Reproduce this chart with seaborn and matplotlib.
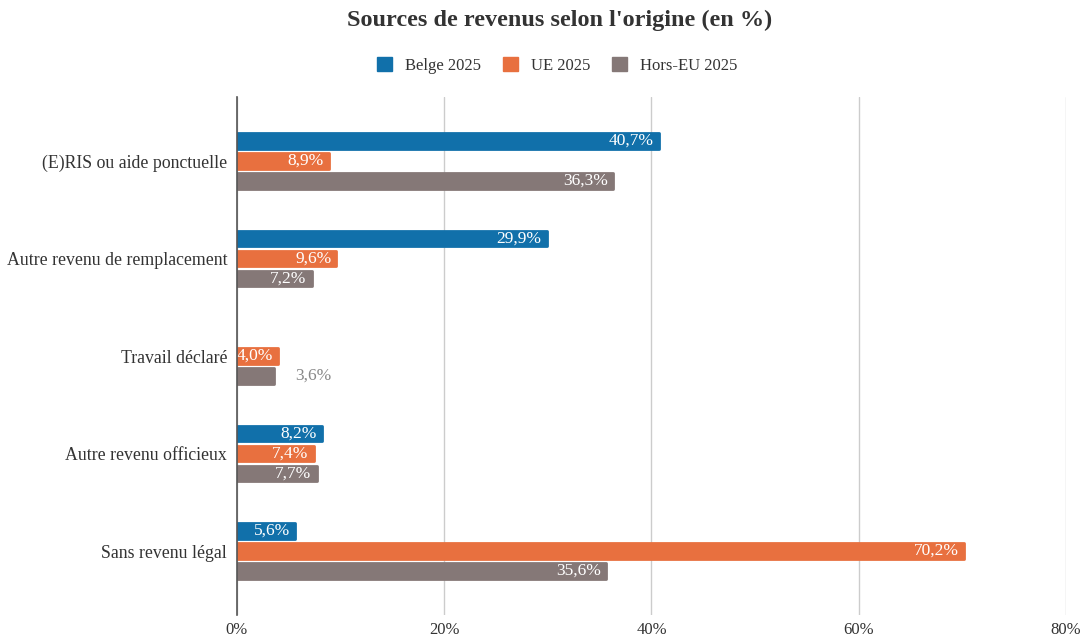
import numpy as np
import pandas as pd
import seaborn as sns
import matplotlib.pyplot as plt

categories = ['(E)RIS ou aide ponctuelle', 'Autre revenu de remplacement',
              'Travail déclaré', 'Autre revenu officieux', 'Sans revenu légal']
series_names = ['Belge 2025', 'UE 2025', 'Hors-EU 2025']
belge = [40.7, 29.9, np.nan, 8.2, 5.6]
ue = [8.9, 9.6, 4.0, 7.4, 70.2]
hors_eu = [36.3, 7.2, 3.6, 7.7, 35.6]
x_ticks = [0, 20, 40, 60, 80]

colors = ['#1170AA', '#E8703F', '#857877']
text_color = '#333333'

sns.set_theme(style='white')
plt.rcParams['font.family'] = ['Liberation Serif', 'DejaVu Serif']

rows = []
for name, vals in zip(series_names, [belge, ue, hors_eu]):
  for cat, v in zip(categories, vals):
    rows.append(dict(cat=cat, serie=name, value=v))
df = pd.DataFrame(rows)

fig = plt.figure(figsize=(10.84, 6.41), dpi=100)
ax = fig.add_axes([0.2186, 0.0406, 0.7648, 0.808])

sns.barplot(data=df, y='cat', x='value', hue='serie', order=categories,
            hue_order=series_names, palette=colors, orient='h', width=0.615,
            gap=0.22, saturation=1, ax=ax, legend=False)

# rounded bar ends: same-colour edge with round joins
for cont in ax.containers:
  for bar in cont:
    bar.set_edgecolor(bar.get_facecolor())
    bar.set_linewidth(2.0)
    bar.set_joinstyle('round')

ax.set_xlim(0, 80)
ax.set_ylim(4.656, -0.656)
ax.set_xticks(x_ticks)
ax.set_xticklabels(['{}%'.format(t) for t in x_ticks], fontsize=12, color=text_color)
ax.tick_params(axis='y', labelsize=12.8, labelcolor=text_color, length=0, pad=7)
ax.tick_params(axis='x', length=0, pad=5)
ax.set_xlabel('')
ax.set_ylabel('')
ax.xaxis.grid(True, color='#cccccc', linewidth=1)
ax.set_axisbelow(True)
for s in ['top', 'right', 'bottom']:
  ax.spines[s].set_visible(False)
ax.spines['left'].set_color('#555555')
ax.spines['left'].set_linewidth(1.2)
ax.spines['left'].set_zorder(5)

# value labels
for cont in ax.containers:
  for bar in cont:
    w = bar.get_width()
    if np.isnan(w) or w == 0:
      continue
    y = bar.get_y() + bar.get_height() / 2
    label = '{:.1f}%'.format(w).replace('.', ',')
    if w < 4:
      ax.text(w + 2.0, y, label, ha='left', va='center', fontsize=12.5,
              color='#888888')
    else:
      ax.text(w - 0.5, y, label, ha='right', va='center', fontsize=12.5,
              color='white')

# legend
handles = [plt.Rectangle((0, 0), 1, 1, color=c) for c in colors]
fig.legend(handles, series_names, loc='center', bbox_to_anchor=(0.514, 0.898),
           ncol=3, frameon=False, fontsize=12, handlelength=0.92,
           handleheight=0.92, columnspacing=1.3, handletextpad=0.78,
           labelcolor=text_color)

fig.suptitle("Sources de revenus selon l'origine (en %)", x=0.516, y=0.984,
             fontsize=17.5, fontweight='bold', color=text_color)

plt.savefig('out.png', dpi=100)
